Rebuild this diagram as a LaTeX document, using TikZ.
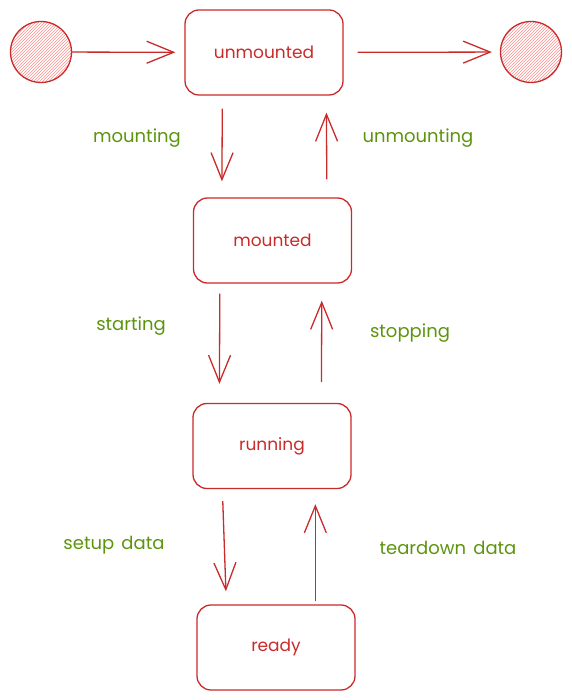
\documentclass[tikz,border=0pt]{standalone}
\usepackage{fontspec}
\setmainfont{Poppins}
\usetikzlibrary{arrows.meta,patterns}

\definecolor{statered}{rgb}{0.788, 0.165, 0.165}
\definecolor{hatchred}{rgb}{1.000, 0.560, 0.560}
\definecolor{labelgreen}{rgb}{0.361, 0.580, 0.051}

\newlength{\du}
\setlength{\du}{1pt}
\newcommand{\transfont}{\fontsize{18}{21}\selectfont\spaceskip=0.4em\relax}

\begin{document}
\begin{tikzpicture}[x=1\du, y=-1\du,
  state/.style={draw=statered, line width=1.3\du, rounded corners=14\du,
    minimum width=158\du, minimum height=85\du, text=statered,
    font=\fontsize{17}{20}\selectfont},
  terminal/.style={circle, draw=statered, line width=1.3\du, inner sep=0pt,
    minimum size=61\du, pattern=north east lines, pattern color=hatchred},
  flow/.style={draw=statered, line width=1.3\du,
    -{Straight Barb[length=27pt, width=22pt]}},
  trans/.style={text=labelgreen, font=\transfont}]
\useasboundingbox (0,0) rectangle (571,700);
% states
\node[terminal] (init) at (41,52) {};
\node[state] (unmounted) at (264,52.5) {unmounted};
\node[terminal] (final) at (531,52) {};
\node[state] (mounted) at (272.5,240.5) {mounted};
\node[state] (running) at (272,446) {running};
\node[state] (ready) at (276,647.5) {ready};
% transitions
\draw[flow, shorten >=9pt] (init) -- (unmounted);
\draw[flow, shorten <=14pt, shorten >=8pt] (unmounted) -- (final);
\draw[flow, shorten <=13pt, shorten >=16pt] ([xshift=38pt]unmounted.south west) -- ([xshift=29pt]mounted.north west);
\draw[flow, shorten <=18pt, shorten >=17pt] ([xshift=134pt]mounted.north west) -- ([xshift=142pt]unmounted.south west);
\draw[flow, shorten <=10pt, shorten >=19pt] ([xshift=27pt]mounted.south west) -- ([xshift=27pt]running.north west);
\draw[flow, shorten <=21pt, shorten >=17pt] ([xshift=129pt]running.north west) -- ([xshift=129pt]mounted.south west);
\draw[flow, shorten <=12pt, shorten >=13pt] ([xshift=30pt]running.south west) -- ([xshift=30pt]ready.north west);
\draw[flow, shorten <=3pt, shorten >=15pt] ([xshift=119pt]ready.north west) -- ([xshift=123pt]running.south west);
% labels
\node[trans] (tmounting) at (137,138) {mounting};
\node[trans] (tunmounting) at (418,138) {unmounting};
\node[trans] (tstarting) at (131,326) {starting};
\node[trans] (tstopping) at (410,333) {stopping};
\node[trans] (tsetup) at (114,545) {setup data};
\node[trans] (tteardown) at (448,548) {teardown data};
\end{tikzpicture}
\end{document}
